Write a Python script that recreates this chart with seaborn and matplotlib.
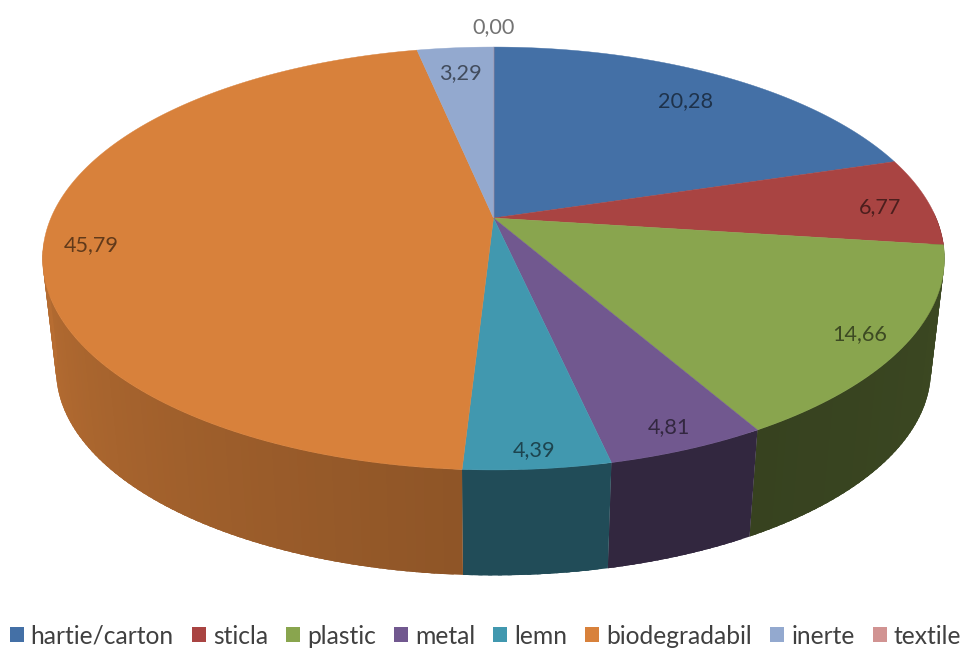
import numpy as np
import matplotlib
matplotlib.use("Agg")
import matplotlib.pyplot as plt
from matplotlib.patches import Patch
from matplotlib.colors import to_rgb
import seaborn as sns

categories = ["hartie/carton", "sticla", "plastic", "metal", "lemn", "biodegradabil", "inerte", "textile"]
values = [20.28, 6.77, 14.66, 4.81, 4.39, 45.79, 3.29, 0.00]
value_labels = ["20,28", "6,77", "14,66", "4,81", "4,39", "45,79", "3,29", "0,00"]

top_colors = ["#4470A6", "#A94442", "#89A54E", "#71588F", "#4198AF", "#D8813B", "#93A9CF", "#D19392"]
# how dark the side wall gets, at the start and end of each slice
side_shade = [(0.4, 0.4), (0.4, 0.4), (0.44, 0.4), (0.44, 0.44), (0.5, 0.5), (0.66, 1.06), (0.5, 0.5), (0.5, 0.5)]
# where each value label sits: fraction of the radius, then pixel nudge
label_radius = [0.82, 0.89, 0.90, 0.92, 0.94, 0.90, 0.83, 1.143]
label_nudge = [(0, 2), (0, 4), (0, 3), (0, 0), (0, 0), (0, 13), (0, 0), (0, 0)]

# tilted disc, the far edge is drawn smaller than the near edge
CX, CY = 493.5, 218
RX, RY = 442.6, 203.7
PERSP = 0.1915
BOTTOM_SCALE = 0.97
BOTTOM_CY = 331

sns.set_theme(style="white")
plt.rcParams["font.family"] = ["Lato", "DejaVu Sans"]
palette = sns.color_palette(top_colors)


def project(theta_deg, r=1.0, cy=CY, scale=1.0):
    # theta runs clockwise from the top of the pie
    t = np.radians(theta_deg)
    u, v = r * np.sin(t), r * np.cos(t)
    d = 1 + PERSP * v
    return CX + scale * RX * u / d, cy - scale * RY * v / d


fig = plt.figure(figsize=(9.65, 6.5), dpi=100)
ax = fig.add_axes([0, 0, 1, 1])
ax.set_xlim(0, 965)
ax.set_ylim(650, 0)
ax.axis("off")

edges = np.cumsum([0] + values) / sum(values) * 360

# side wall first, only the near part shows. Strips overlap a little so no seams
for i, color in enumerate(palette):
    a0, a1 = edges[i], edges[i + 1]
    steps = max(int(a1 - a0), 1) if a1 > a0 else 0
    for j in range(steps):
        s0 = a0 + (a1 - a0) * j / steps
        s1 = min(a0 + (a1 - a0) * (j + 1) / steps + 1.5, a1)
        if s1 < 90 or s0 > 261:
            continue
        shade = side_shade[i][0] + (side_shade[i][1] - side_shade[i][0]) * j / steps
        c = tuple(np.clip(np.array(to_rgb(color)) * shade, 0, 1))
        x0, y0 = project(s0)
        x1, y1 = project(s1)
        x2, y2 = project(s1, cy=BOTTOM_CY, scale=BOTTOM_SCALE)
        x3, y3 = project(s0, cy=BOTTOM_CY, scale=BOTTOM_SCALE)
        ax.fill([x0, x1, x2, x3], [y0, y1, y2, y3], color=c, lw=0, zorder=2)

for i, color in enumerate(palette):
    theta = np.linspace(edges[i], edges[i + 1], 200)
    xs, ys = project(theta)
    ax.fill(np.r_[CX, xs], np.r_[CY, ys], color=color, lw=0.3, zorder=3)

for i, label in enumerate(value_labels):
    mid = (edges[i] + edges[i + 1]) / 2
    x, y = project(mid, r=label_radius[i])
    ax.text(x + label_nudge[i][0], y + label_nudge[i][1], label, ha="center", va="center",
            fontsize=15.6, color="black", alpha=0.55, zorder=4)

handles = [Patch(facecolor=c, edgecolor="none", label=n) for c, n in zip(palette, categories)]
fig.legend(handles=handles, loc="lower center", bbox_to_anchor=(0.503, 0.0), ncol=len(categories),
           frameon=False, fontsize=17.7, handlelength=0.57, handleheight=0.57, handletextpad=0.28,
           columnspacing=0.74, labelcolor="#404040", borderaxespad=0.0, borderpad=0.1)

fig.savefig("out.png", dpi=100)
